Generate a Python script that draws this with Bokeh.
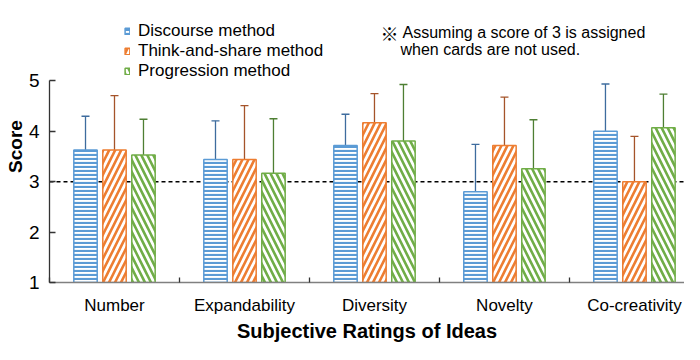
from bokeh.plotting import figure
from bokeh.models import (Range1d, FixedTicker, ColumnDataSource, Whisker, TeeHead,
                          Span, Legend, LegendItem, Label)
from bokeh.embed import file_html
from bokeh.resources import INLINE

# ---- data ----
categories = ["Number", "Expandability", "Diversity", "Novelty", "Co-creativity"]
series_names = ["Discourse method", "Think-and-share method", "Progression method"]
discourse_mean = [3.63, 3.44, 3.72, 2.80, 4.00]
discourse_sd = [0.67, 0.77, 0.62, 0.94, 0.94]
think_mean = [3.63, 3.44, 4.17, 3.72, 3.00]
think_sd = [1.08, 1.07, 0.58, 0.96, 0.90]
progression_mean = [3.53, 3.17, 3.81, 3.26, 4.07]
progression_sd = [0.71, 1.08, 1.12, 0.97, 0.67]
y_ticks = [1, 2, 3, 4, 5]
baseline_score = 3
note_mark = "※"
note_line1 = "Assuming  a score of 3 is assigned"
note_line2 = "when cards are not used."

FONT = "Liberation Sans"
fill_colors = ["#5B9BD5", "#ED7D31", "#70AD47"]
err_colors = ["#3E6C9E", "#A5542A", "#4E7F33"]
hatches = ["horizontal_line", "right_diagonal_line", "left_diagonal_line"]
hatch_scales = [4, 12, 12]
hatch_weights = [2.2, 2.6, 2.6]
offsets = [-0.223, 0.0, 0.223]
bar_w = 0.18

n = len(categories)
p = figure(width=684, height=344, output_backend="svg", toolbar_location=None,
           x_range=Range1d(0, 4.885), y_range=Range1d(1, 6.399),
           min_border_left=49, min_border_right=0, min_border_top=10, min_border_bottom=60)
p.outline_line_color = None
p.grid.visible = False
p.background_fill_color = "white"

# baseline dashed line
p.add_layout(Span(location=baseline_score, dimension="width", line_color="black",
                  line_dash="4 3", line_width=1.5, level="underlay"))

means = [discourse_mean, think_mean, progression_mean]
sds = [discourse_sd, think_sd, progression_sd]
renderers = []
for i in range(3):
    xs = [k + 0.5 + offsets[i] for k in range(n)]
    src = ColumnDataSource(dict(
        x=xs, top=means[i],
        upper=[m + s for m, s in zip(means[i], sds[i])],
        lower=[m - s for m, s in zip(means[i], sds[i])]))
    r = p.vbar(x="x", top="top", bottom=1, width=bar_w, source=src,
               fill_color="white", line_color=fill_colors[i], line_width=1.5,
               hatch_pattern=hatches[i], hatch_color=fill_colors[i],
               hatch_scale=hatch_scales[i], hatch_weight=hatch_weights[i])
    renderers.append(r)
    w = Whisker(base="x", upper="upper", lower="lower", source=src,
                line_color=err_colors[i], line_width=1.3,
                upper_head=TeeHead(size=8, line_color=err_colors[i], line_width=1.3),
                lower_head=TeeHead(size=8, line_color=err_colors[i], line_width=1.3))
    p.add_layout(w)

# x axis
xa = p.xaxis[0]
xa.ticker = FixedTicker(ticks=[k + 0.5 for k in range(n)], minor_ticks=list(range(n + 1)))
xa.major_label_overrides = {k + 0.5: c for k, c in enumerate(categories)}
xa.major_tick_line_color = None
xa.major_tick_in = 0
xa.major_tick_out = 0
xa.minor_tick_in = 5
xa.minor_tick_out = 0
xa.minor_tick_line_color = "#333333"
xa.minor_tick_line_width = 1.3
xa.axis_line_color = "#808080"
xa.axis_line_width = 1.5
xa.major_label_text_font = FONT
xa.major_label_text_font_size = "17px"
xa.major_label_text_color = "black"
xa.major_label_standoff = 13
xa.axis_label = "Subjective Ratings of Ideas"
xa.axis_label_text_font = FONT
xa.axis_label_text_font_style = "bold"
xa.axis_label_text_font_size = "20px"
xa.axis_label_text_color = "black"
xa.axis_label_standoff = 2

# y axis
ya = p.yaxis[0]
ya.bounds = (1, 5)
ya.ticker = FixedTicker(ticks=y_ticks, minor_ticks=[])
ya.major_tick_in = 6
ya.major_tick_out = 0
ya.major_tick_line_color = "#333333"
ya.major_tick_line_width = 1.3
ya.axis_line_color = "#333333"
ya.axis_line_width = 1.3
ya.major_label_text_font = FONT
ya.major_label_text_font_size = "19px"
ya.major_label_text_color = "black"
ya.major_label_standoff = 10
ya.axis_label = "Score"
ya.axis_label_text_font = FONT
ya.axis_label_text_font_style = "bold"
ya.axis_label_text_font_size = "19px"
ya.axis_label_text_color = "black"
ya.axis_label_standoff = 0

# legend
legend = Legend(items=[LegendItem(label=series_names[i], renderers=[renderers[i]]) for i in range(3)],
                location=(75, 201), orientation="vertical",
                glyph_width=6, glyph_height=8, label_height=19, spacing=-1,
                label_standoff=8, padding=0, margin=0,
                label_text_font=FONT, label_text_font_size="17px", label_text_color="black",
                border_line_color=None, background_fill_alpha=0)
p.add_layout(legend, "center")

# note
mark = Label(x=331, y=250, x_units="screen", y_units="screen",
             text=note_mark, text_font="Noto Sans CJK JP",
             text_font_size="18px", text_color="black", text_baseline="middle")
note1 = Label(x=353, y=250, x_units="screen", y_units="screen",
              text=note_line1, text_font=FONT,
              text_font_size="16px", text_color="black", text_baseline="middle")
note2 = Label(x=351, y=233, x_units="screen", y_units="screen",
              text=note_line2, text_font=FONT,
              text_font_size="16px", text_color="black", text_baseline="middle")
p.add_layout(mark)
p.add_layout(note1)
p.add_layout(note2)

open("out.html", "w").write(file_html(p, INLINE))
